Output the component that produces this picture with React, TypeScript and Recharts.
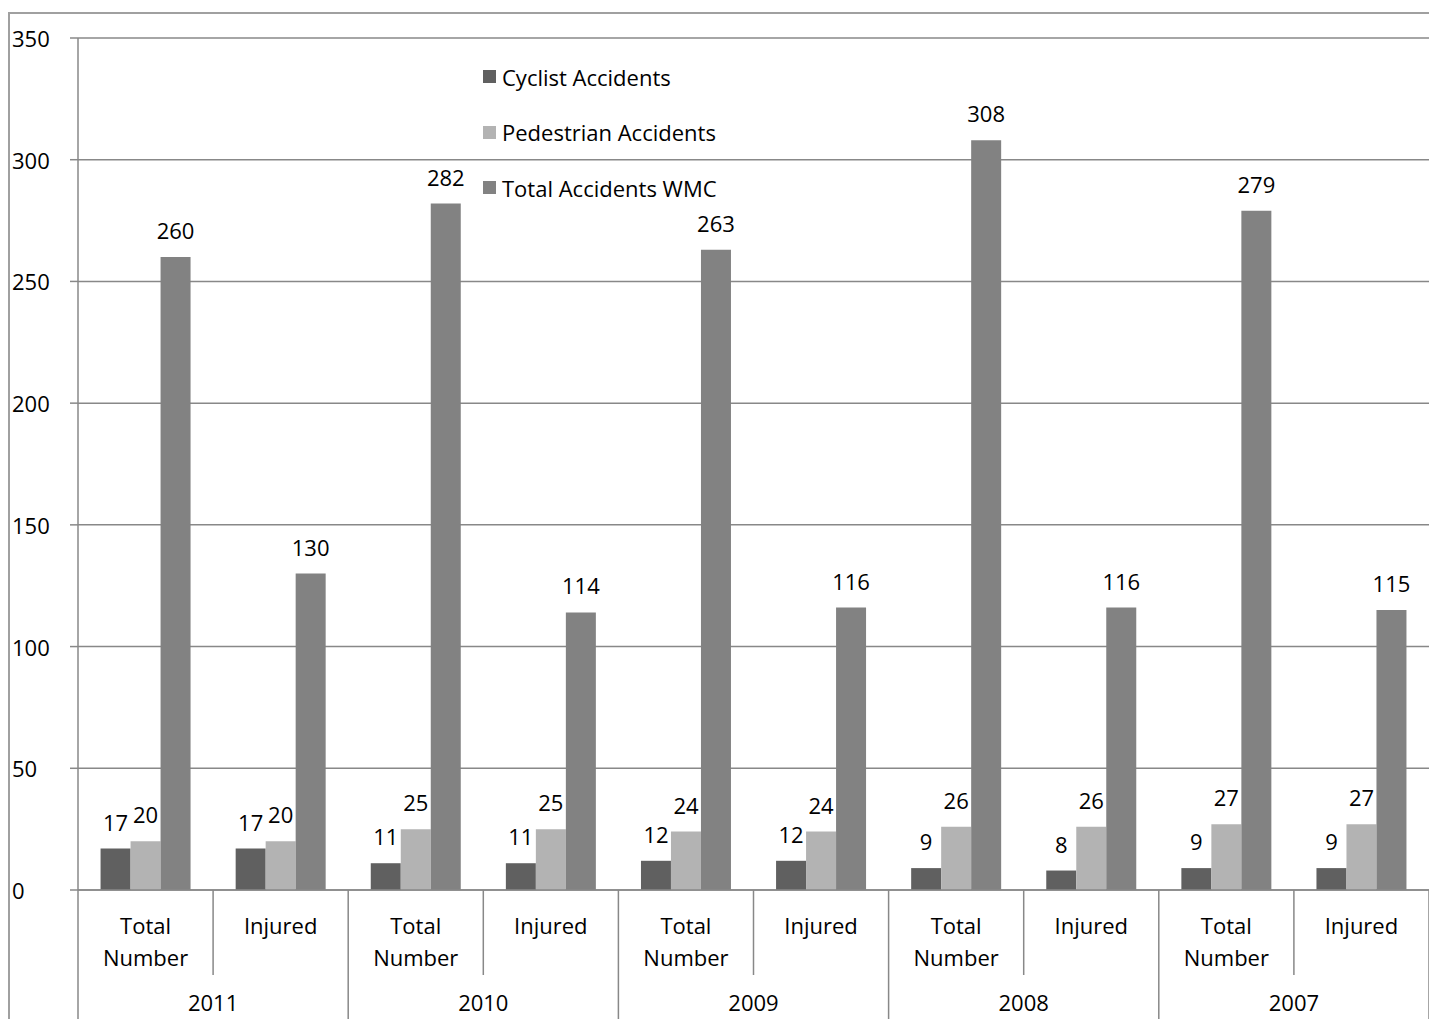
import React from 'react';
import { ComposedChart, Bar, XAxis, YAxis, CartesianGrid, LabelList, Legend } from 'recharts';

const subCategories = ['Total Number', 'Injured', 'Total Number', 'Injured', 'Total Number', 'Injured', 'Total Number', 'Injured', 'Total Number', 'Injured'];
const years = ['2011', '2010', '2009', '2008', '2007'];
const cyclist = [17, 17, 11, 11, 12, 12, 9, 8, 9, 9];
const pedestrian = [20, 20, 25, 25, 24, 24, 26, 26, 27, 27];
const totalWMC = [260, 130, 282, 114, 263, 116, 308, 116, 279, 115];
const yTicks = [0, 50, 100, 150, 200, 250, 300, 350];

const seriesNames = ['Cyclist Accidents', 'Pedestrian Accidents', 'Total Accidents WMC'];
const seriesColors = ['#606060', '#b3b3b3', '#828282'];

const data = subCategories.map((sub, i) => ({
  id: `${years[Math.floor(i / 2)]}-${i}`,
  sub,
  year: years[Math.floor(i / 2)],
  cyclist: cyclist[i],
  pedestrian: pedestrian[i],
  total: totalWMC[i],
}));

const FONT = '"Open Sans", Lato, sans-serif';
const FS = 22;
const GRID = '#888888';

const YTick = (props: any) => {
  const { y, payload } = props;
  return (
    <text x={12} y={y} textAnchor="start" dominantBaseline="central" fontFamily={FONT} fontSize={FS} fill="#000">
      {payload.value}
    </text>
  );
};

const XTick = (props: any) => {
  const { x, y, payload, index } = props;
  const half = payload && payload.offset ? payload.offset : 67.5;
  const d = data[index];
  const lines = d.sub.split(' ');
  return (
    <g>
      {lines.map((l: string, k: number) => (
        <text key={k} x={x} y={y + 35 + k * 32} textAnchor="middle" dominantBaseline="central" fontFamily={FONT} fontSize={FS} fill="#000">
          {l}
        </text>
      ))}
      {index === 0 && <line x1={x - half} x2={x - half} y1={y} y2={y + 140} stroke={GRID} strokeWidth={1.5} />}
      <line x1={x + half} x2={x + half} y1={y} y2={index % 2 === 1 ? y + 140 : y + 85} stroke={GRID} strokeWidth={1.5} />
      {index % 2 === 0 && (
        <text x={x + half} y={y + 112} textAnchor="middle" dominantBaseline="central" fontFamily={FONT} fontSize={FS} fill="#000">
          {d.year}
        </text>
      )}
    </g>
  );
};

const LegendContent = () => (
  <div style={{ fontFamily: FONT, fontSize: FS, color: '#000' }}>
    {seriesNames.map((n, i) => (
      <div key={n} style={{ display: 'flex', alignItems: 'center', height: 55.5 }}>
        <span style={{ display: 'inline-block', width: 13, height: 13, background: seriesColors[i], marginRight: 6 }} />
        <span>{n}</span>
      </div>
    ))}
  </div>
);

export default function App() {
  return (
    <div style={{ position: 'relative', width: 1429, height: 1019, background: '#fff', overflow: 'hidden' }}>
      <style>{'body{margin:0}'}</style>
      <div style={{ position: 'absolute', left: 8, top: 12, right: -10, bottom: -10, borderTop: '2px solid #a0a0a0', borderLeft: '2px solid #a0a0a0' }} />
      <div style={{ position: 'absolute', left: 0, top: 0 }}>
        <ComposedChart
          width={1430}
          height={1019}
          data={data}
          margin={{ top: 38, right: 1, bottom: 0, left: 8 }}
          barCategoryGap="16.7%"
          barGap={0}
        >
          <CartesianGrid horizontal vertical={false} stroke={GRID} strokeWidth={1.5} />
          <YAxis
            domain={[0, 350]}
            ticks={yTicks}
            width={70}
            axisLine={{ stroke: GRID, strokeWidth: 1.5 }}
            tickLine={{ stroke: GRID, strokeWidth: 1.5 }}
            tickSize={8}
            tick={<YTick />}
            interval={0}
          />
          <XAxis
            dataKey="id"
            height={129}
            axisLine={{ stroke: GRID, strokeWidth: 1.5 }}
            tickLine={false}
            tickSize={0}
            tickMargin={0}
            tick={<XTick />}
            interval={0}
          />
          <Legend
            layout="vertical"
            align="center"
            verticalAlign="middle"
            content={<LegendContent />}
            wrapperStyle={{ position: 'absolute', left: 483, top: 49, width: 'auto' }}
          />
          <Bar dataKey="cyclist" name={seriesNames[0]} fill={seriesColors[0]} isAnimationActive={false}>
            <LabelList dataKey="cyclist" position="top" offset={18} fontFamily={FONT} fontSize={FS} fill="#000" />
          </Bar>
          <Bar dataKey="pedestrian" name={seriesNames[1]} fill={seriesColors[1]} isAnimationActive={false}>
            <LabelList dataKey="pedestrian" position="top" offset={18} fontFamily={FONT} fontSize={FS} fill="#000" />
          </Bar>
          <Bar dataKey="total" name={seriesNames[2]} fill={seriesColors[2]} isAnimationActive={false}>
            <LabelList dataKey="total" position="top" offset={18} fontFamily={FONT} fontSize={FS} fill="#000" />
          </Bar>
        </ComposedChart>
      </div>
    </div>
  );
}
